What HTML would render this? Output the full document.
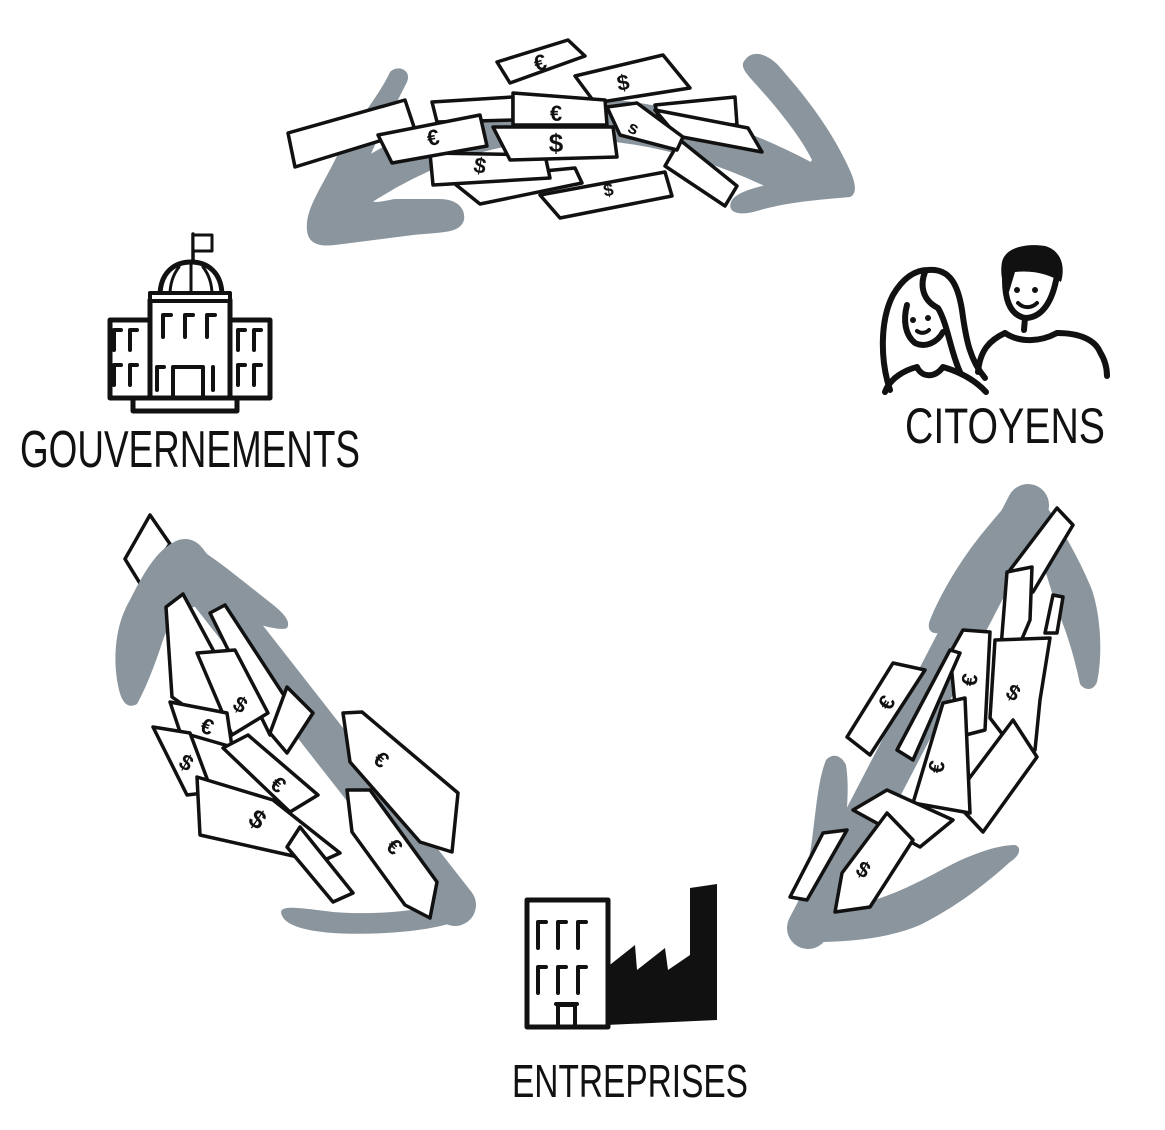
<!DOCTYPE html>
<html><head><meta charset="utf-8"><style>
html,body{margin:0;padding:0;background:#fff;}
svg{display:block;}
text{font-family:"Liberation Sans",sans-serif;}
</style></head><body>
<svg width="1165" height="1130" viewBox="0 0 1165 1130" xmlns="http://www.w3.org/2000/svg">
<rect width="1165" height="1130" fill="#fff"/>

<!-- ============ TOP GROUP ============ -->
<g fill="#8a959d" stroke="none">
  <path d="M360,185 Q560,55 800,180" fill="none" stroke="#8a959d" stroke-width="42" stroke-linecap="round"/>
  <!-- left chevron -->
  <path d="M390,72 C380,95 350,130 335,160 C320,190 305,210 307,230 C308,244 320,247 335,245 L413,235 C440,232 460,234 464,220 C466,207 455,199 440,199 L395,199 C382,201 372,205 368,198 C362,185 365,165 375,145 L407,82 C412,70 398,64 390,72 Z"/>
  <!-- right chevron -->
  <path d="M745,60 C752,50 765,53 777,64 C800,90 825,120 845,160 C853,176 860,192 850,197 C830,199 790,201 757,211 C740,216 727,213 731,202 C735,193 750,189 770,184 C790,179 805,171 812,160 C798,132 772,102 752,80 C744,71 740,65 745,60 Z"/>
</g>
<g fill="#fff" stroke="#111" stroke-width="3.5" stroke-linejoin="round">
  <polygon points="497,62 568,40 585,56 510,83"/>
  <polygon points="575,76 663,55 690,88 595,103"/>
  <polygon points="288,133 405,100 415,130 295,167"/>
  <polygon points="432,102 513,97 513,120 437,122"/>
  <polygon points="655,105 735,97 737,125 660,123"/>
  <polygon points="655,110 748,128 762,152 677,136"/>
  <polygon points="680,140 737,186 725,206 665,166"/>
  <polygon points="540,195 665,172 672,196 560,218"/>
  <polygon points="450,180 575,168 582,183 480,204"/>
  <polygon points="430,153 545,155 550,178 433,185"/>
  <polygon points="378,135 480,115 487,146 392,163"/>
  <polygon points="513,93 605,100 607,125 513,125"/>
  <polygon points="493,127 613,127 617,157 510,160"/>
  <polygon points="607,107 637,103 683,137 677,150 620,135"/>
</g>
<g fill="#111" font-weight="bold" font-size="22" text-anchor="middle">
  <text x="540" y="70" transform="rotate(-15 540 62)">€</text>
  <text x="623" y="90" transform="rotate(-10 623 82)">$</text>
  <text x="433" y="145" transform="rotate(-10 433 137)">€</text>
  <text x="556" y="121">€</text>
  <text x="556" y="152" font-size="26">$</text>
  <text x="480" y="173" transform="rotate(10 480 165)">$</text>
  <text x="608" y="196" transform="rotate(-10 608 188)" font-size="18">$</text>
  <text x="634" y="134" transform="rotate(25 634 127)" font-size="18">s</text>
</g>

<!-- ============ LEFT GROUP ============ -->
<polygon points="150,515 170,544 141,585 125,559" fill="#fff" stroke="#111" stroke-width="3.5" stroke-linejoin="round"/>
<g fill="#8a959d">
  <path d="M185,560 L455,905" fill="none" stroke="#8a959d" stroke-width="42" stroke-linecap="round"/>
  <!-- upper chevron -->
  <path d="M180,540 C200,545 235,575 267,600 C280,610 292,620 287,628 C280,632 250,622 233,617 L200,605 C180,610 168,625 163,640 C155,665 145,690 137,704 C130,708 123,706 119,690 C112,660 115,625 130,600 C145,570 160,545 180,540 Z"/>
  <!-- lower chevron -->
  <path d="M398,775 C405,768 414,772 417,782 C425,815 440,855 455,890 C462,905 466,915 458,920 C440,930 380,936 333,933 C305,931 282,925 281,912 C282,905 300,908 333,912 C370,915 410,912 437,905 C425,870 410,830 400,800 C396,790 394,780 398,775 Z"/>
</g>
<g fill="#fff" stroke="#111" stroke-width="3.5" stroke-linejoin="round">
  <polygon points="166,607 183,594 240,700 205,720 172,697"/>
  <polygon points="210,613 225,605 300,720 270,735"/>
  <polygon points="287,687 313,713 287,753 270,733"/>
  <polygon points="197,653 235,650 268,713 232,735"/>
  <polygon points="170,702 227,713 232,747 180,732"/>
  <polygon points="153,727 190,733 212,792 187,795"/>
  <polygon points="223,748 248,735 318,795 290,812"/>
  <polygon points="197,777 273,800 340,853 320,862 200,835"/>
  <polygon points="300,827 353,893 333,902 287,847"/>
  <polygon points="343,713 362,712 458,793 452,852 420,842 350,762"/>
  <polygon points="347,790 370,790 437,882 430,918 405,905 352,832"/>
</g>
<g fill="#111" font-weight="bold" font-size="22" text-anchor="middle">
  <text x="240" y="712" transform="rotate(30 240 705)">$</text>
  <text x="207" y="734" transform="rotate(20 207 727)">€</text>
  <text x="186" y="770" transform="rotate(30 186 763)">$</text>
  <text x="278" y="792" transform="rotate(40 278 785)">€</text>
  <text x="257" y="828" transform="rotate(35 257 820)" font-size="26">$</text>
  <text x="381" y="767" transform="rotate(40 381 760)">€</text>
  <text x="394" y="854" transform="rotate(45 394 847)">€</text>
</g>

<!-- ============ RIGHT GROUP ============ -->
<g fill="#8a959d">
  <path d="M1028,505 L808,928" fill="none" stroke="#8a959d" stroke-width="42" stroke-linecap="round"/>
  <!-- upper chevron -->
  <path d="M1023,490 C1030,486 1036,490 1042,500 C1060,525 1080,560 1092,590 C1102,620 1102,660 1097,682 C1093,692 1084,690 1080,684 C1075,660 1068,635 1058,612 L1045,570 C1030,575 1010,585 993,597 C975,612 955,625 943,632 C932,636 926,630 930,620 C940,595 960,560 985,530 C1000,512 1012,497 1023,490 Z"/>
  <!-- lower chevron -->
  <path d="M826,760 C833,752 842,756 846,765 C850,790 846,820 843,848 C840,870 838,890 845,905 C870,905 905,890 945,868 C975,852 1000,845 1015,845 C1022,847 1020,856 1010,862 C990,880 960,905 920,925 C890,938 850,942 815,942 C795,942 788,935 793,922 C800,900 808,870 812,840 C816,810 818,780 826,760 Z"/>
</g>
<g fill="#fff" stroke="#111" stroke-width="3.5" stroke-linejoin="round">
  <polygon points="1057,508 1073,525 1033,592 1010,570"/>
  <polygon points="1007,572 1032,567 1030,620 1010,667 1000,660"/>
  <polygon points="1053,595 1063,597 1057,633 1045,633"/>
  <polygon points="995,640 1050,638 1040,700 1035,750 1013,748 990,718"/>
  <polygon points="950,653 963,630 990,632 985,730 958,737"/>
  <polygon points="847,737 893,663 925,670 870,755"/>
  <polygon points="897,750 950,650 960,653 913,760"/>
  <polygon points="953,800 1013,720 1037,757 983,832"/>
  <polygon points="913,803 943,703 965,698 970,813"/>
  <polygon points="853,810 887,790 953,820 920,847"/>
  <polygon points="790,897 823,833 847,830 807,900"/>
  <polygon points="835,912 842,873 887,813 913,840 870,907"/>
</g>
<g fill="#111" font-weight="bold" font-size="22" text-anchor="middle">
  <text x="1013" y="700" transform="rotate(30 1013 693)">$</text>
  <text x="970" y="687" transform="rotate(-80 970 680)">€</text>
  <text x="887" y="710" transform="rotate(-60 887 703)">€</text>
  <text x="937" y="774" transform="rotate(-80 937 767)">€</text>
  <text x="863" y="877" transform="rotate(30 863 870)">$</text>
</g>

<!-- ============ GOUVERNEMENTS building ============ -->
<g stroke="#111" fill="#fff" stroke-linejoin="round" stroke-linecap="round">
  <line x1="193" y1="264" x2="193" y2="234" stroke-width="3.5"/>
  <rect x="193" y="235" width="19" height="16" stroke-width="3"/>
  <path d="M160,296 C160,272 175,262 191,262 C207,262 222,272 222,296 Z" stroke-width="5"/>
  <path d="M191,263 L191,295 M179,267 C172,276 170,286 170,295 M203,267 C210,276 212,286 212,295" stroke-width="3" fill="none"/>
  <rect x="110" y="320" width="40" height="78" stroke-width="5"/>
  <rect x="230" y="320" width="40" height="78" stroke-width="5"/>
  <rect x="150" y="300" width="80" height="100" stroke-width="5"/>
  <rect x="150" y="293" width="80" height="8" stroke-width="4"/>
  <rect x="133" y="398" width="104" height="13" stroke-width="5"/>
  <path fill="none" stroke-width="4" d="
    M163,337 L163,315 L171,315 M185,337 L185,315 L193,315 M207,337 L207,315 L215,315
    M157,390 L157,367 L164,367 M213,390 L213,367
    M173,398 L173,367 L203,367 L203,398
    M114,350 L114,330 L121,330 M130,350 L130,330 L137,330
    M114,385 L114,365 L121,365 M130,385 L130,365 L137,365
    M238,350 L238,330 L245,330 M254,350 L254,330 L261,330
    M238,385 L238,365 L245,365 M254,385 L254,365 L261,365"/>
</g>
<text x="20" y="467" font-size="52" fill="#111" textLength="340" lengthAdjust="spacingAndGlyphs">GOUVERNEMENTS</text>

<!-- ============ CITOYENS people ============ -->
<g stroke="#111" fill="none" stroke-width="6" stroke-linecap="round" stroke-linejoin="round">
  <path d="M890,390 C880,360 880,320 893,295 C903,278 915,270 928,270 C950,268 958,285 962,310 C966,340 970,360 985,378"/>
  <path d="M925,272 C920,285 922,300 938,308 C948,325 950,350 960,372"/>
  <path d="M907,305 C903,320 905,335 915,343 C925,348 937,343 943,332"/>
  <path d="M917,331 C921,334 926,333 929,330" stroke-width="4"/>
  <path d="M885,392 C890,378 905,370 917,367 M943,367 C960,372 975,380 986,392 M917,367 C922,378 935,378 943,367"/>
  <path d="M1005,280 C1005,300 1010,315 1025,318 C1040,318 1050,305 1055,285 L1058,272"/>
  <path d="M1018,303 C1024,309 1032,308 1037,303" stroke-width="4"/>
  <path d="M1025,318 L1024,330 M1005,333 C1020,343 1040,342 1057,333"/>
  <path d="M978,372 C980,350 990,340 1005,333 M1057,333 C1080,333 1095,340 1100,352 C1105,360 1107,368 1107,376"/>
</g>
<path d="M1002,262 C1005,248 1025,243 1045,246 C1060,250 1066,265 1061,282 C1050,275 1035,270 1015,272 L1009,292 C1002,287 1000,272 1002,262 Z" fill="#111"/>
<g fill="#111">
  <circle cx="913" cy="320" r="3"/><circle cx="928" cy="318" r="3"/>
  <circle cx="1017" cy="290" r="3"/><circle cx="1035" cy="290" r="3"/>
</g>
<text x="905" y="443" font-size="50" fill="#111" textLength="200" lengthAdjust="spacingAndGlyphs">CITOYENS</text>

<!-- ============ ENTREPRISES ============ -->
<polygon points="606,968 635,945 637,970 665,948 668,970 690,955 690,888 717,884 717,1020 606,1025" fill="#111"/>
<g stroke="#111" fill="#fff" stroke-linejoin="round" stroke-linecap="round">
  <rect x="527" y="900" width="81" height="127" stroke-width="5"/>
  <path fill="none" stroke-width="4" d="
    M538,948 L538,922 L546,922 M558,948 L558,922 L566,922 M578,948 L578,922 L586,922
    M538,993 L538,967 L546,967 M558,993 L558,967 L566,967 M578,993 L578,967 L586,967
    M558,1027 L558,1005 L575,1005 L575,1027 M556,1004 L577,1004"/>
</g>
<text x="512" y="1097" font-size="46" fill="#111" textLength="236" lengthAdjust="spacingAndGlyphs">ENTREPRISES</text>
</svg>
</body></html>
